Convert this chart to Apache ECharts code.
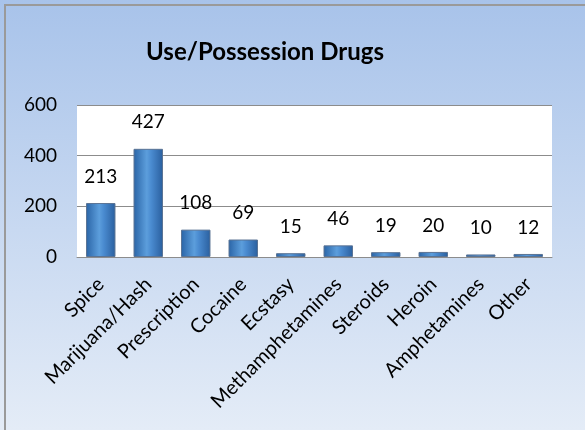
<!DOCTYPE html>
<html>
<head>
<meta charset="utf-8">
<script src="https://cdn.jsdelivr.net/npm/echarts@6/dist/echarts.min.js"></script>
<style>
  html, body { margin: 0; padding: 0; }
  #chart { width: 585px; height: 430px; }
</style>
</head>
<body>
<div id="chart"></div>
<script>
  var categories = ['Spice', 'Marijuana/Hash', 'Prescription', 'Cocaine', 'Ecstasy',
    'Methamphetamines', 'Steroids', 'Heroin', 'Amphetamines', 'Other'];
  var counts = [213, 427, 108, 69, 15, 46, 19, 20, 10, 12];
  var yTicks = [0, 200, 400, 600];

  var chart = echarts.init(document.getElementById('chart'));
  var font = 'Lato, "Open Sans", sans-serif';

  chart.setOption({
    animation: false,
    backgroundColor: new echarts.graphic.LinearGradient(0, 0, 0, 1, [
      { offset: 0, color: '#a8c3ea' },
      { offset: 1, color: '#e4ecf7' }
    ]),
    graphic: [
      {
        type: 'rect',
        shape: { x: 5, y: 5, width: 620, height: 470 },
        style: { fill: 'none', stroke: '#9a9a9a', lineWidth: 2 }
      },
      {
        type: 'text',
        x: 265, y: 52,
        style: {
          text: 'Use/Possession Drugs',
          font: 'bold 24px ' + font,
          fill: '#000',
          textAlign: 'center',
          textVerticalAlign: 'middle'
        }
      }
    ],
    grid: {
      left: 77, right: 33, top: 105, bottom: 173,
      show: true, backgroundColor: '#ffffff', borderWidth: 0
    },
    xAxis: {
      type: 'category',
      data: categories,
      axisLine: { lineStyle: { color: '#8c8c8c', width: 1 } },
      axisTick: { show: false },
      axisLabel: {
        rotate: 45, interval: 0, margin: 24,
        fontFamily: font, fontSize: 20, color: '#000'
      }
    },
    yAxis: {
      type: 'value',
      min: yTicks[0], max: yTicks[yTicks.length - 1], interval: 200,
      axisLine: { show: false },
      axisTick: { show: false },
      splitLine: { lineStyle: { color: '#8c8c8c', width: 1 } },
      axisLabel: { margin: 20, fontFamily: font, fontSize: 19, color: '#000' }
    },
    series: [{
      type: 'bar',
      data: counts,
      barWidth: '62%',
      itemStyle: {
        color: new echarts.graphic.LinearGradient(0, 0, 1, 0, [
          { offset: 0, color: '#2a64a6' },
          { offset: 0.45, color: '#5c9edc' },
          { offset: 0.6, color: '#4a8bd0' },
          { offset: 1, color: '#2a5f9e' }
        ]),
        borderColor: '#5a7394',
        borderWidth: 1
      },
      label: {
        show: true, position: 'top', distance: 17,
        fontFamily: font, fontSize: 19, color: '#000'
      }
    }]
  });
</script>
</body>
</html>
